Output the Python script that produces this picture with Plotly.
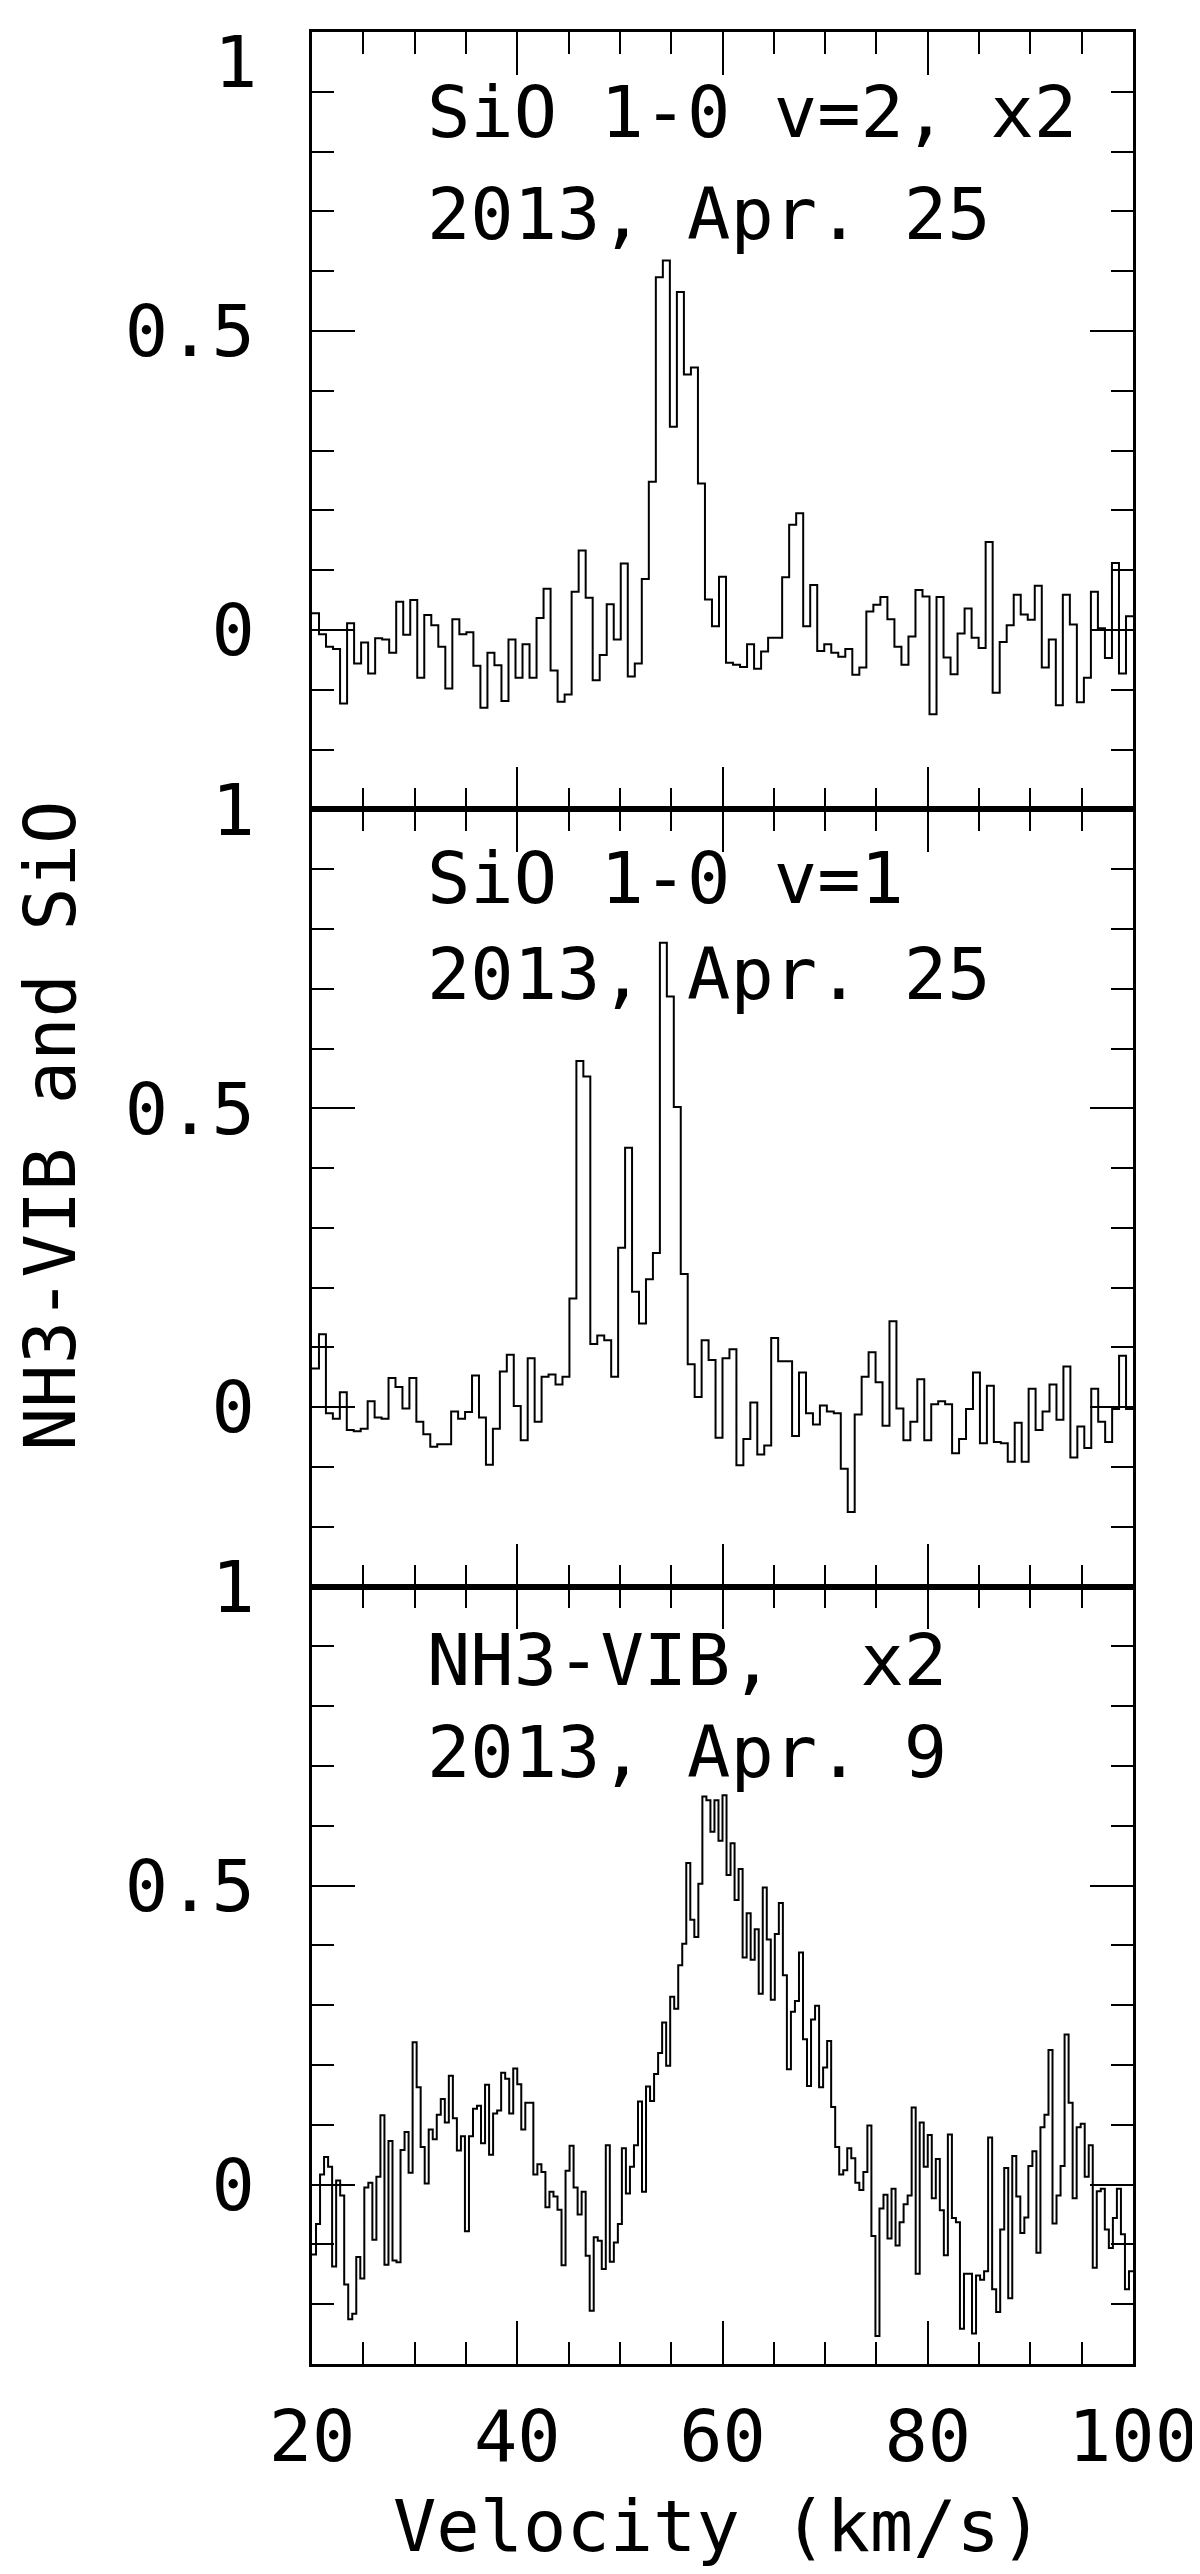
import numpy as np
import plotly.graph_objects as go
from plotly.subplots import make_subplots

# velocity range covered by every spectrum (km/s)
v_min, v_max = 20, 100

# SiO 1-0 v=2 (x2), 2013 Apr 25
sio_v2 = [
    0.028, -0.007, -0.028, -0.032, -0.123, 0.011, -0.056, -0.021, -0.073, -0.014,
    -0.016, -0.038, 0.047, -0.008, 0.050, -0.080, 0.025, 0.008, -0.028, -0.098,
    0.018, -0.007, -0.004, -0.060, -0.130, -0.038, -0.059, -0.119, -0.016, -0.080,
    -0.024, -0.080, 0.020, 0.069, -0.068, -0.120, -0.108, 0.064, 0.133, 0.054,
    -0.084, -0.042, 0.043, -0.016, 0.111, -0.078, -0.056, 0.085, 0.248, 0.590,
    0.618, 0.340, 0.565, 0.427, 0.439, 0.245, 0.051, 0.006, 0.089,
    -0.055, -0.058, -0.062, -0.024, -0.065, -0.036, -0.013, -0.013, 0.088, 0.176,
    0.195, 0.006, 0.075, -0.035, -0.024, -0.038, -0.045, -0.032, -0.075, -0.063,
    0.031, 0.042, 0.055, 0.018, -0.028, -0.058, -0.011, 0.067, 0.056, -0.141,
    0.055, -0.046, -0.074, -0.006, 0.036, -0.013, -0.030, 0.147, -0.105, -0.020,
    0.008, 0.059, 0.026, 0.017, 0.074, -0.063, -0.016, -0.126, 0.059, 0.009,
    -0.121, -0.080, 0.064, 0.003, -0.047, 0.112, -0.073, 0.023,
]

# SiO 1-0 v=1, 2013 Apr 25
sio_v1 = [
    0.065, 0.122, -0.010, -0.019, 0.025, -0.038, -0.040, -0.036, 0.010, -0.017,
    -0.019, 0.049, 0.034, -0.002, 0.049, -0.024, -0.045, -0.066, -0.062, -0.062,
    -0.007, -0.019, -0.008, 0.053, -0.017, -0.096, -0.036, 0.060, 0.088, 0.002,
    -0.055, 0.082, -0.024, 0.051, 0.055, 0.038, 0.051, 0.182, 0.579, 0.553,
    0.106, 0.120, 0.112, 0.051, 0.267, 0.434, 0.193, 0.140, 0.214, 0.258,
    0.777, 0.687, 0.502, 0.223, 0.072, 0.017, 0.112, 0.079, -0.051,
    0.082, 0.097, -0.097, -0.053, 0.008, -0.079, -0.064, 0.116, 0.077, 0.077,
    -0.048, 0.058, -0.010, -0.029, 0.003, -0.007, -0.010, -0.103, -0.175, -0.012,
    0.051, 0.092, 0.042, -0.031, 0.144, -0.002, -0.055, -0.024, 0.047, -0.055,
    0.005, 0.010, 0.005, -0.077, -0.053, -0.003, 0.058, -0.060, 0.036, -0.058,
    -0.060, -0.091, -0.026, -0.091, 0.031, -0.038, -0.007, 0.038, -0.021, 0.068,
    -0.084, -0.032, -0.068, 0.031, -0.024, -0.058, -0.003, 0.086, -0.003,
]

# NH3 vibrationally excited (x2), 2013 Apr 9
nh3_vib = [
    -0.117, -0.066, 0.017, 0.046, 0.030, -0.137, 0.007, -0.018, -0.167, -0.225,
    -0.216, -0.121, -0.157, -0.005, 0.003, -0.092, 0.013, 0.116, -0.134, 0.073,
    -0.127, -0.130, 0.058, 0.088, 0.020, 0.238, 0.163, 0.063, 0.002, 0.092,
    0.076, 0.117, 0.143, 0.104, 0.182, 0.111, 0.057, 0.081, -0.078, 0.081,
    0.127, 0.132, 0.069, 0.167, 0.050, 0.119, 0.124, 0.187, 0.177, 0.119,
    0.194, 0.168, 0.092, 0.137, 0.137, 0.017, 0.034, 0.021, -0.038, -0.012,
    -0.020, -0.042, -0.135, 0.023, 0.065, -0.005, -0.050, -0.012, -0.119, -0.211,
    -0.088, -0.094, -0.141, 0.066, -0.129, -0.097, -0.066, 0.061, -0.015, 0.030,
    0.066, 0.139, -0.012, 0.164, 0.140, 0.185, 0.220, 0.271, 0.199, 0.314,
    0.294, 0.367, 0.403, 0.538, 0.443, 0.414, 0.503, 0.649, 0.643, 0.590,
    0.643, 0.575, 0.651,
    0.518, 0.571, 0.476, 0.528, 0.380, 0.454, 0.376, 0.427, 0.319, 0.497,
    0.410, 0.309, 0.419, 0.471, 0.350, 0.193, 0.289, 0.307, 0.388, 0.243,
    0.165, 0.276, 0.299, 0.163, 0.196, 0.240, 0.130, 0.063, 0.017, 0.024,
    0.061, 0.044, 0.003, -0.009, 0.021, 0.099, -0.086, -0.253, -0.040, -0.017,
    -0.090, -0.007, -0.102, -0.063, -0.033, -0.018, 0.129, -0.149, 0.104, 0.030,
    0.083, -0.023, 0.043, -0.043, -0.118, 0.084, -0.056, -0.063, -0.241, -0.149,
    -0.149, -0.249, -0.152, -0.159, -0.145, 0.079, -0.175, -0.213, -0.075, 0.028,
    -0.190, 0.048, -0.020, -0.081, -0.055, 0.031, 0.056, -0.114, 0.096, 0.117,
    0.225, -0.065, -0.018, 0.031, 0.251, 0.137, -0.023, 0.096, 0.102, 0.013,
    0.066, -0.139, -0.011, -0.007, -0.075, -0.106, -0.056, -0.007, -0.083, -0.175,
    -0.145,
]

spectra = [sio_v2, sio_v1, nh3_vib]
labels = [
    ("SiO 1-0 v=2, x2", "2013, Apr. 25"),
    ("SiO 1-0 v=1", "2013, Apr. 25"),
    ("NH3-VIB,  x2", "2013, Apr. 9"),
]
y_title = "NH3-VIB and SiO"
x_title = "Velocity (km/s)"

FONT = "DejaVu Sans Mono"
FS = 72

fig = make_subplots(rows=3, cols=1, shared_xaxes=True, vertical_spacing=0)

for i, vals in enumerate(spectra):
    # channel edges, drawn as a histogram-style step line
    edges = np.linspace(v_min, v_max, len(vals) + 1)
    fig.add_trace(
        go.Scatter(x=edges, y=list(vals) + [vals[-1]], mode='lines', line_shape='hv',
                   line=dict(color='black', width=2), showlegend=False),
        row=i + 1, col=1
    )

# text position of the two label lines in each panel (data units)
label_y = [(0.866, 0.695), (0.886, 0.724), (0.878, 0.724)]
for i, (l1, l2) in enumerate(labels):
    yref = 'y' if i == 0 else f'y{i + 1}'
    xref = 'x' if i == 0 else f'x{i + 1}'
    for txt, yy in zip((l1, l2), label_y[i]):
        fig.add_annotation(x=31.0, y=yy, xref=xref, yref=yref, text=txt,
                           showarrow=False, xanchor='left', yanchor='middle',
                           font=dict(family=FONT, size=FS, color='black'))

fig.add_annotation(x=-0.320, y=0.531, xref='paper', yref='paper', text=y_title,
                   textangle=-90, showarrow=False, xanchor='center', yanchor='middle',
                   font=dict(family=FONT, size=FS, color='black'))
fig.add_annotation(x=0.495, y=-0.0695, xref='paper', yref='paper', text=x_title,
                   showarrow=False, xanchor='center', yanchor='middle',
                   font=dict(family=FONT, size=FS, color='black'))
# "1" at the very top of the first panel, nudged down so it stays on the page
fig.add_annotation(x=-0.0646, y=1.006, xref='paper', yref='paper', text='1',
                   showarrow=False, xanchor='right', yanchor='top',
                   font=dict(family=FONT, size=FS, color='black'))

fig.update_xaxes(
    range=[v_min, v_max], tickmode='linear', tick0=20, dtick=20,
    ticks='inside', ticklen=43, tickwidth=2, tickcolor='black',
    minor=dict(tickmode='linear', tick0=20, dtick=5, ticks='inside', ticklen=22,
               tickwidth=2, tickcolor='black'),
    showline=True, linecolor='black', linewidth=2.5, mirror='allticks',
    showgrid=False, zeroline=False, ticklabelstandoff=8, automargin=False,
    ticklabeloverflow='allow',
    tickfont=dict(family=FONT, size=FS, color='black')
)
fig.update_yaxes(
    range=[-0.3, 1], tickmode='linear', tick0=0, dtick=0.5,
    ticks='inside', ticklen=43, tickwidth=2, tickcolor='black',
    minor=dict(tickmode='linear', tick0=0, dtick=0.1, ticks='inside', ticklen=22,
               tickwidth=2, tickcolor='black'),
    showline=True, linecolor='black', linewidth=2.5, mirror='allticks',
    showgrid=False, zeroline=False, ticklabelstandoff=40, automargin=False,
    ticklabeloverflow='allow',
    tickfont=dict(family=FONT, size=FS, color='black')
)
# top panel: its "1" label is drawn as an annotation above
fig.update_yaxes(tickmode='array', tickvals=[0, 0.5], ticktext=['0', '0.5'], row=1, col=1)

# the page body adds an 8 px offset, so the figure is drawn 8 px smaller
fig.update_layout(
    width=1192, height=2566,
    margin=dict(l=304, r=67, t=24, b=210),
    plot_bgcolor='white', paper_bgcolor='white',
    showlegend=False
)

fig.write_html("out.html")
